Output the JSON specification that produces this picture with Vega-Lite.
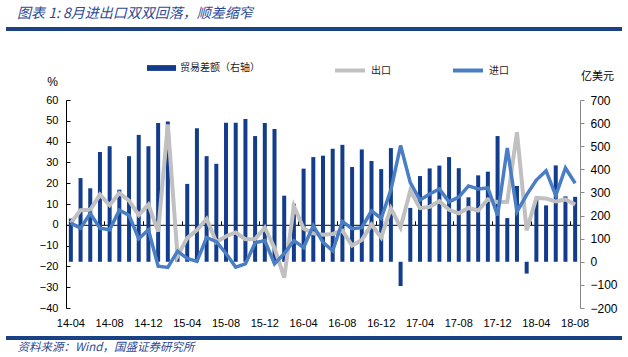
{
  "$schema": "https://vega.github.io/schema/vega-lite/v6.json",
  "width": 616,
  "height": 320,
  "autosize": {"type": "none"},
  "padding": {"left": 6, "top": 18, "right": 6, "bottom": 19},
  "background": "white",
  "config": {"view": {"stroke": null}, "font": "Liberation Sans", "axis": {"grid": false}},
  "title": {"text": "图表 1: 8月进出口双双回落，顺差缩窄", "anchor": "start", "frame": "group", "dx": 11, "offset": -3, "font": "Noto Sans CJK SC", "fontSize": 14, "fontStyle": "italic", "fontWeight": "normal", "color": "#2E4A96"},
  "data": {"values": [
    {"m": "14-04", "bal": 187, "ex": 0.9, "im": 0.8},
    {"m": "14-05", "bal": 362, "ex": 7.0, "im": -1.6},
    {"m": "14-06", "bal": 318, "ex": 7.2, "im": 5.5},
    {"m": "14-07", "bal": 475, "ex": 14.5, "im": -1.6},
    {"m": "14-08", "bal": 500, "ex": 9.4, "im": -2.4},
    {"m": "14-09", "bal": 312, "ex": 15.3, "im": 7.0},
    {"m": "14-10", "bal": 457, "ex": 11.6, "im": 4.6},
    {"m": "14-11", "bal": 549, "ex": 4.7, "im": -6.7},
    {"m": "14-12", "bal": 500, "ex": 9.7, "im": -2.4},
    {"m": "15-01", "bal": 600, "ex": -3.3, "im": -19.9},
    {"m": "15-02", "bal": 607, "ex": 48.3, "im": -20.5},
    {"m": "15-03", "bal": 27, "ex": -15.0, "im": -12.7},
    {"m": "15-04", "bal": 337, "ex": -6.4, "im": -16.2},
    {"m": "15-05", "bal": 578, "ex": -2.5, "im": -17.6},
    {"m": "15-06", "bal": 457, "ex": 2.8, "im": -6.1},
    {"m": "15-07", "bal": 424, "ex": -8.3, "im": -8.1},
    {"m": "15-08", "bal": 602, "ex": -5.5, "im": -13.8},
    {"m": "15-09", "bal": 602, "ex": -3.7, "im": -20.4},
    {"m": "15-10", "bal": 618, "ex": -6.9, "im": -18.8},
    {"m": "15-11", "bal": 544, "ex": -6.8, "im": -8.7},
    {"m": "15-12", "bal": 601, "ex": -1.4, "im": -7.6},
    {"m": "16-01", "bal": 575, "ex": -11.2, "im": -18.8},
    {"m": "16-02", "bal": 286, "ex": -25.4, "im": -13.8},
    {"m": "16-03", "bal": 251, "ex": 9.0, "im": -7.6},
    {"m": "16-04", "bal": 403, "ex": -1.8, "im": -10.9},
    {"m": "16-05", "bal": 453, "ex": -4.1, "im": -0.4},
    {"m": "16-06", "bal": 459, "ex": -4.8, "im": -8.4},
    {"m": "16-07", "bal": 489, "ex": -4.4, "im": -12.5},
    {"m": "16-08", "bal": 506, "ex": -2.8, "im": 1.5},
    {"m": "16-09", "bal": 410, "ex": -10.0, "im": -1.9},
    {"m": "16-10", "bal": 486, "ex": -7.3, "im": -1.4},
    {"m": "16-11", "bal": 436, "ex": 0.1, "im": 6.7},
    {"m": "16-12", "bal": 401, "ex": -6.1, "im": 3.1},
    {"m": "17-01", "bal": 492, "ex": 7.9, "im": 16.7},
    {"m": "17-02", "bal": -105, "ex": -1.3, "im": 38.1},
    {"m": "17-03", "bal": 233, "ex": 16.4, "im": 20.3},
    {"m": "17-04", "bal": 371, "ex": 8.0, "im": 11.9},
    {"m": "17-05", "bal": 404, "ex": 8.7, "im": 14.8},
    {"m": "17-06", "bal": 416, "ex": 11.3, "im": 17.2},
    {"m": "17-07", "bal": 453, "ex": 7.2, "im": 11.0},
    {"m": "17-08", "bal": 405, "ex": 5.5, "im": 13.3},
    {"m": "17-09", "bal": 279, "ex": 8.1, "im": 18.7},
    {"m": "17-10", "bal": 374, "ex": 6.9, "im": 17.2},
    {"m": "17-11", "bal": 390, "ex": 12.3, "im": 17.7},
    {"m": "17-12", "bal": 544, "ex": 10.9, "im": 4.5},
    {"m": "18-01", "bal": 189, "ex": 11.1, "im": 36.9},
    {"m": "18-02", "bal": 328, "ex": 44.5, "im": 6.3},
    {"m": "18-03", "bal": -51, "ex": -2.7, "im": 14.4},
    {"m": "18-04", "bal": 270, "ex": 12.9, "im": 21.5},
    {"m": "18-05", "bal": 244, "ex": 12.6, "im": 26.0},
    {"m": "18-06", "bal": 417, "ex": 11.2, "im": 14.1},
    {"m": "18-07", "bal": 283, "ex": 12.2, "im": 27.3},
    {"m": "18-08", "bal": 281, "ex": 9.8, "im": 20.0}
  ]},
  "layer": [
    {
      "mark": {"type": "bar", "size": 4},
      "encoding": {
        "x": {"field": "m", "type": "ordinal", "sort": null,
          "scale": {"type": "band", "paddingInner": 0, "paddingOuter": 0, "range": [60, 574]},
          "axis": {"orient": "bottom", "offset": 0, "values": ["14-04","14-08","14-12","15-04","15-08","15-12","16-04","16-08","16-12","17-04","17-08","17-12","18-04","18-08"],
            "bandPosition": 0.5, "domain": false, "ticks": false,
            "labelPadding": -15, "labelBaseline": "middle", "labelAngle": 0, "labelOverlap": false, "labelFont": "Liberation Sans", "labelFontSize": 11, "labelColor": "#000",
            "title": "资料来源：Wind，国盛证券研究所", "titleX": 11, "titleY": 9, "titleAlign": "left", "titleAngle": 0, "titleBaseline": "middle",
            "titleFont": "Noto Sans CJK SC", "titleFontSize": 11.5, "titleFontStyle": "italic", "titleFontWeight": "normal", "titleColor": "#2E4A96", "zindex": 0}},
        "y": {"field": "bal", "type": "quantitative", "scale": {"domain": [-200, 700], "nice": false, "range": [290, 82]},
          "axis": {"orient": "right", "offset": -42, "values": [-200,-100,0,100,200,300,400,500,600,700], "domainColor": "#888", "tickColor": "#888", "tickSize": 4, "labelPadding": 6,
            "labelFont": "Liberation Sans", "labelFontSize": 12, "labelColor": "#000", "grid": false,
            "title": "亿美元", "titleAngle": 0, "titleX": 17, "titleY": 58, "titleAlign": "center", "titleBaseline": "middle",
            "titleFont": "Noto Sans CJK SC", "titleFontSize": 11, "titleFontWeight": "normal", "titleColor": "#000"}},
        "fill": {"datum": "贸易差额（右轴）", "type": "nominal", "scale": {"range": ["#123C8C"]},
          "legend": {"orient": "none", "legendX": 141, "legendY": 35.5, "title": null, "padding": 0,
            "symbolType": "M-1,-0.2H1V0.2H-1Z", "symbolSize": 841, "symbolStrokeWidth": 0, "labelOffset": 4,
            "labelFont": "Noto Sans CJK SC", "labelFontSize": 10, "labelColor": "#222"}}
      }
    },
    {
      "layer": [
        {
          "mark": {"type": "line", "strokeWidth": 4},
          "encoding": {
            "x": {"field": "m", "type": "ordinal", "sort": null,
              "scale": {"type": "band", "paddingInner": 0, "paddingOuter": 0, "range": [60, 574]},
              "axis": {"orient": "bottom", "offset": -113.2, "values": ["14-04","14-08","14-12","15-04","15-08","15-12","16-04","16-08","16-12","17-04","17-08","17-12","18-04","18-08"],
                "bandPosition": 0, "domain": true, "domainColor": "#000", "domainWidth": 1, "ticks": true, "tickColor": "#000", "tickSize": -4,
                "labels": false, "title": null, "zindex": 0}},
            "y": {"field": "ex", "type": "quantitative", "scale": {"domain": [-40, 60], "nice": false, "range": [290, 82]},
              "axis": {"orient": "left", "offset": -60, "values": [-40,-30,-20,-10,0,10,20,30,40,50,60], "domainColor": "#000", "tickColor": "#000", "tickSize": -4, "labelPadding": 12,
                "labelFont": "Liberation Sans", "labelFontSize": 11, "labelColor": "#000", "grid": false,
                "title": "%", "titleAngle": 0, "titleX": -14, "titleY": 63, "titleAlign": "center", "titleBaseline": "middle",
                "titleFont": "Liberation Sans", "titleFontSize": 12, "titleFontWeight": "normal", "titleColor": "#000"}},
            "stroke": {"datum": "出口", "type": "nominal", "scale": {"domain": ["出口", "进口"], "range": ["#C0C0C0", "#4A7EC4"]},
              "legend": {"orient": "none", "direction": "horizontal", "legendX": 327, "legendY": 35.5, "title": null, "padding": 0,
                "symbolType": "stroke", "symbolSize": 900, "symbolStrokeWidth": 4, "labelOffset": 4, "columnPadding": 54,
                "labelFont": "Noto Sans CJK SC", "labelFontSize": 10, "labelColor": "#222"}}
          }
        },
        {
          "mark": {"type": "line", "strokeWidth": 3.5},
          "encoding": {
            "x": {"field": "m", "type": "ordinal", "sort": null,
              "scale": {"type": "band", "paddingInner": 0, "paddingOuter": 0, "range": [60, 574]}, "axis": null},
            "y": {"field": "im", "type": "quantitative", "scale": {"domain": [-40, 60], "nice": false, "range": [290, 82]},
              "axis": {"orient": "left", "offset": -60, "values": [-40,-30,-20,-10,0,10,20,30,40,50,60], "domainColor": "#000", "tickColor": "#000", "tickSize": -4, "labelPadding": 12,
                "labelFont": "Liberation Sans", "labelFontSize": 11, "labelColor": "#000", "grid": false,
                "title": "%", "titleAngle": 0, "titleX": -14, "titleY": 63, "titleAlign": "center", "titleBaseline": "middle",
                "titleFont": "Liberation Sans", "titleFontSize": 12, "titleFontWeight": "normal", "titleColor": "#000"}},
            "stroke": {"datum": "进口", "type": "nominal", "scale": {"domain": ["出口", "进口"], "range": ["#C0C0C0", "#4A7EC4"]},
              "legend": {"orient": "none", "direction": "horizontal", "legendX": 327, "legendY": 35.5, "title": null, "padding": 0,
                "symbolType": "stroke", "symbolSize": 900, "symbolStrokeWidth": 4, "labelOffset": 4, "columnPadding": 54,
                "labelFont": "Noto Sans CJK SC", "labelFontSize": 10, "labelColor": "#222"}}
          }
        },
        {
          "mark": {"type": "rule", "color": "#1B4282", "strokeWidth": 3.5},
          "encoding": {"y": {"datum": 94.1, "type": "quantitative",
            "axis": {"orient": "left", "offset": -60, "values": [-40,-30,-20,-10,0,10,20,30,40,50,60], "domainColor": "#000", "tickColor": "#000", "tickSize": -4, "labelPadding": 12,
                "labelFont": "Liberation Sans", "labelFontSize": 11, "labelColor": "#000", "grid": false,
                "title": "%", "titleAngle": 0, "titleX": -14, "titleY": 63, "titleAlign": "center", "titleBaseline": "middle",
                "titleFont": "Liberation Sans", "titleFontSize": 12, "titleFontWeight": "normal", "titleColor": "#000"}}}
        },
        {
          "mark": {"type": "rule", "color": "#1B4282", "strokeWidth": 2.5},
          "encoding": {"y": {"datum": -54.42, "type": "quantitative",
            "axis": {"orient": "left", "offset": -60, "values": [-40,-30,-20,-10,0,10,20,30,40,50,60], "domainColor": "#000", "tickColor": "#000", "tickSize": -4, "labelPadding": 12,
                "labelFont": "Liberation Sans", "labelFontSize": 11, "labelColor": "#000", "grid": false,
                "title": "%", "titleAngle": 0, "titleX": -14, "titleY": 63, "titleAlign": "center", "titleBaseline": "middle",
                "titleFont": "Liberation Sans", "titleFontSize": 12, "titleFontWeight": "normal", "titleColor": "#000"}}}
        }
      ],
      "resolve": {"axis": {"x": "independent"}}
    }
  ],
  "resolve": {"scale": {"y": "independent"}, "axis": {"x": "independent"}}
}
